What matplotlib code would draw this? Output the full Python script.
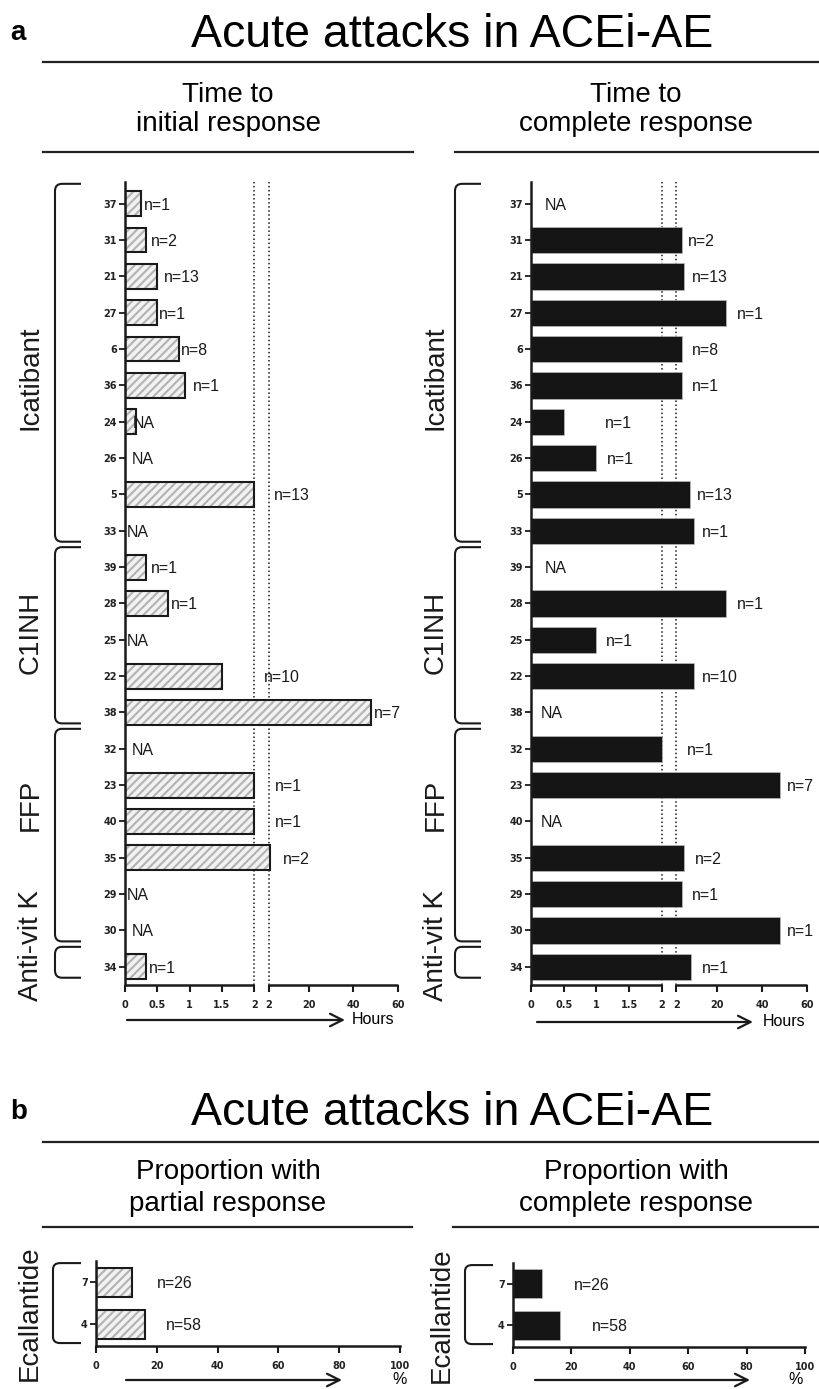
import numpy as np
import matplotlib.pyplot as plt
import matplotlib.transforms as mtransforms
from matplotlib.path import Path
from matplotlib.patches import PathPatch
from matplotlib.lines import Line2D

plt.rcParams['font.family'] = ['Liberation Sans', 'DejaVu Sans']
plt.rcParams['hatch.linewidth'] = 1.5

W, H = 820, 1389

# ---- data (part a) ----
patients = ['37', '31', '21', '27', '6', '36', '24', '26', '5', '33', '39',
            '28', '25', '22', '38', '32', '23', '40', '35', '29', '30', '34']
groups = ['Icatibant', 'C1INH', 'FFP', 'Anti-vit K']
group_sizes = [10, 5, 6, 1]

initial_hours = [0.25, 0.33, 0.5, 0.5, 0.83, 0.92, 0.17, np.nan, 2, np.nan, 0.33,
                 0.67, np.nan, 1.5, 48, np.nan, 2, 2, 2.5, np.nan, np.nan, 0.33]
initial_labels = ['n=1', 'n=2', 'n=13', 'n=1', 'n=8', 'n=1', 'NA', 'NA', 'n=13', 'NA', 'n=1',
                  'n=1', 'NA', 'n=10', 'n=7', 'NA', 'n=1', 'n=1', 'n=2', 'NA', 'NA', 'n=1']

complete_hours = [np.nan, 4.5, 5.5, 24, 4.5, 4.5, 0.5, 1, 8, 10, np.nan,
                  24, 1, 10, np.nan, 2, 48, np.nan, 5.5, 4.5, 48, 8.5]
complete_labels = ['NA', 'n=2', 'n=13', 'n=1', 'n=8', 'n=1', 'n=1', 'n=1', 'n=13', 'n=1', 'NA',
                   'n=1', 'n=1', 'n=10', 'NA', 'n=1', 'n=7', 'NA', 'n=2', 'n=1', 'n=1', 'n=1']

hour_ticks = [0, 0.5, 1, 1.5, 2, 2, 20, 40, 60]
hour_tick_labels = ['0', '0.5', '1', '1.5', '2', '2', '20', '40', '60']

# ---- data (part b) ----
ecal_patients = ['7', '4']
partial_pct = [12, 16]
complete_pct = [10, 16]
ecal_labels = ['n=26', 'n=58']
pct_ticks = [0, 20, 40, 60, 80, 100]

# label nudges (pixels right of bar end)
initial_dx = [3, 5, 7, 2, 2, 8, -3, 7, 20, 2, 5, 3, 2, 42, 3, 7, 21, 21, 13, 2, 7, 3]
complete_dx = [14, 6, 8, 11, 10, 10, 41, 11, 7, 8, 14, 11, 10, 8, 10, 25, 7, 10, 11, 10, 7, 11]

# broken hour axis: 0-2 linear, small gap, then 2-60 squeezed into same length
BREAK, GAP, SEG2, HMAX = 2.0, 0.22, 2.0, 60.0
EPS = 1e-6


def fwd(x):
    x = np.asarray(x, dtype=float)
    return np.where(x <= BREAK, x, BREAK + GAP + (x - BREAK) * SEG2 / (HMAX - BREAK))


def inv(p):
    p = np.asarray(p, dtype=float)
    return np.where(p <= BREAK, p,
                    np.where(p < BREAK + GAP, BREAK,
                             BREAK + (p - BREAK - GAP) * (HMAX - BREAK) / SEG2))


fig = plt.figure(figsize=(W / 100, H / 100), dpi=100)


def axes_px(l, t, r, b):
    return fig.add_axes([l / W, 1 - b / H, (r - l) / W, (b - t) / H])


def ftext(x, y, s, **kw):
    return fig.text(x / W, 1 - y / H, s, **kw)


def hline(x0, x1, y):
    fig.add_artist(Line2D([x0 / W, x1 / W], [1 - y / H, 1 - y / H],
                          transform=fig.transFigure, color='#222222', lw=1.6))


def arrow(x0, x1, y):
    fig.add_artist(plt.Annotation('', xy=(x1 / W, 1 - y / H), xytext=(x0 / W, 1 - y / H),
                                  xycoords='figure fraction', textcoords='figure fraction',
                                  arrowprops=dict(arrowstyle='->,head_length=0.9,head_width=0.45',
                                                  lw=1.6, color='#1a1a1a', shrinkA=0, shrinkB=0)))


def bracket(ax, x0, x1, r0, r1, rad=0.2):
    tr = mtransforms.blended_transform_factory(fig.transFigure, ax.transData)
    X0, X1, dx = x0 / W, x1 / W, 7 / W
    verts = [(X1, r0), (X0 + dx, r0), (X0, r0), (X0, r0 + rad),
             (X0, r1 - rad), (X0, r1), (X0 + dx, r1), (X1, r1)]
    codes = [Path.MOVETO, Path.LINETO, Path.CURVE3, Path.CURVE3,
             Path.LINETO, Path.CURVE3, Path.CURVE3, Path.LINETO]
    fig.add_artist(PathPatch(Path(verts, codes), transform=tr, fill=False,
                             lw=1.5, edgecolor='#1a1a1a', clip_on=False))


def group_text(ax, x, row, s):
    tr = mtransforms.blended_transform_factory(fig.transFigure, ax.transData)
    fig.text(x / W, row, s, transform=tr, rotation=90, ha='center', va='center',
             fontsize=20, color='#1a1a1a')


def draw_bars(ax, rows, vals, hatched, height):
    if hatched:
        ax.barh(rows, vals, height=height, facecolor='#f2f2f2', edgecolor='#b3b3b3',
                hatch='////', lw=0, zorder=2)
        ax.barh(rows, vals, height=height, fill=False, edgecolor='#1a1a1a', lw=1.5, zorder=3)
    else:
        ax.barh(rows, vals, height=height, color='#151515', edgecolor='#bbbbbb', lw=0.5, zorder=2)


def style_axes(ax):
    for s in ['top', 'right', 'bottom']:
        ax.spines[s].set_visible(False)
    ax.spines['left'].set_linewidth(1.8)
    ax.spines['left'].set_color('#1a1a1a')
    ax.tick_params(axis='y', length=4, width=1.3, pad=2, color='#1a1a1a')
    ax.tick_params(axis='x', length=5, width=1.5, pad=6, color='#1a1a1a')
    ax.patch.set_alpha(0)


def tick_font():
    return dict(fontweight='bold', fontsize=7, family='DejaVu Sans', color='#222222')


def hours_panel(ax, hours, labels, dx, hatched, bx, gx, bar_h):
    rows = np.arange(len(patients))
    vals = np.array(hours, dtype=float)
    ok = ~np.isnan(vals)
    ax.set_xscale('function', functions=(fwd, inv))
    ax.set_xlim(0, HMAX)
    ax.set_ylim(len(patients) - 0.5, -0.6)
    ax.axvline(BREAK, ls=':', color='#1a1a1a', lw=1.1, zorder=1)
    ax.axvline(BREAK + EPS, ls=':', color='#1a1a1a', lw=1.1, zorder=1)
    draw_bars(ax, rows[ok], vals[ok], hatched, bar_h)
    for r, v, lab, d in zip(rows, vals, labels, dx):
        x = 0 if np.isnan(v) else v
        ax.annotate(lab, xy=(x, r), xytext=(d, 0), textcoords='offset pixels',
                    ha='left', va='center_baseline', fontsize=11.5, color='#1a1a1a',
                    annotation_clip=False)
    style_axes(ax)
    # broken x axis line
    tr = mtransforms.blended_transform_factory(ax.transData, ax.transAxes)
    ax.plot([0, BREAK], [0, 0], transform=tr, color='#1a1a1a', lw=1.8, clip_on=False,
            solid_capstyle='butt')
    ax.plot([BREAK + EPS, HMAX], [0, 0], transform=tr, color='#1a1a1a', lw=1.8, clip_on=False,
            solid_capstyle='butt')
    tick_pos = [t if i != 5 else t + EPS for i, t in enumerate(hour_ticks)]
    ax.set_xticks(tick_pos, labels=hour_tick_labels, **tick_font())
    ax.set_yticks(rows, labels=patients, **tick_font())
    ax.xaxis.set_minor_locator(plt.NullLocator())
    # group brackets + labels
    start = 0
    shifts = [0.3, -0.2, -0.95, -0.6]
    for g, n, sh in zip(groups, group_sizes, shifts):
        r0, r1 = start - 0.55, start + n - 1 + 0.3
        bracket(ax, bx, bx + 26, r0, r1)
        group_text(ax, gx, (start + start + n - 1) / 2 + sh, g)
        start += n


def pct_panel(ax, vals, hatched, label_x, bx, gx):
    rows = np.arange(len(ecal_patients))
    ax.set_xlim(0, 100)
    ax.set_ylim(1.52, -0.5)
    draw_bars(ax, rows, vals, hatched, 0.69)
    for r, lab, lx in zip(rows, ecal_labels, label_x):
        ax.text(lx, r, lab, ha='left', va='center_baseline', fontsize=11.5, color='#1a1a1a')
    style_axes(ax)
    ax.spines['bottom'].set_visible(True)
    ax.spines['bottom'].set_linewidth(1.8)
    ax.spines['bottom'].set_color('#1a1a1a')
    ax.set_xticks(pct_ticks, labels=[str(t) for t in pct_ticks], **tick_font())
    ax.set_yticks(rows, labels=ecal_patients, **tick_font())
    bracket(ax, bx, bx + 28, -0.45, 1.45, rad=0.15)
    group_text(ax, gx, 0.75, 'Ecallantide')


# ---- part a ----
ftext(10, 40, 'a', fontweight='bold', fontsize=20, va='baseline')
ftext(452, 47, 'Acute attacks in ACEi-AE', fontsize=33.5, ha='center', va='baseline')
hline(43, 820, 62)
ftext(228, 102, 'Time to', fontsize=20, ha='center', va='baseline')
ftext(228, 131, 'initial response', fontsize=20, ha='center', va='baseline')
ftext(636, 102, 'Time to', fontsize=20, ha='center', va='baseline')
ftext(636, 131, 'complete response', fontsize=20, ha='center', va='baseline')
hline(43, 413, 152)
hline(455, 818, 152)

ax1 = axes_px(125, 182, 398, 985)
hours_panel(ax1, initial_hours, initial_labels, initial_dx, True, 55, 31, 0.68)
ax2 = axes_px(531, 182, 807, 985)
hours_panel(ax2, complete_hours, complete_labels, complete_dx, False, 455, 436, 0.72)

arrow(127, 345, 1020)
ftext(352, 1020, 'Hours', fontsize=11.5, va='center')
arrow(537, 753, 1022)
ftext(763, 1022, 'Hours', fontsize=11.5, va='center')

# ---- part b ----
ftext(10, 1119, 'b', fontweight='bold', fontsize=20, va='baseline')
ftext(452, 1125, 'Acute attacks in ACEi-AE', fontsize=33.5, ha='center', va='baseline')
hline(43, 820, 1142)
ftext(228, 1179, 'Proportion with', fontsize=20, ha='center', va='baseline')
ftext(228, 1211, 'partial response', fontsize=20, ha='center', va='baseline')
ftext(636, 1179, 'Proportion with', fontsize=20, ha='center', va='baseline')
ftext(636, 1211, 'complete response', fontsize=20, ha='center', va='baseline')
hline(43, 412, 1227)
hline(453, 818, 1227)

ax3 = axes_px(96, 1261, 400, 1346)
pct_panel(ax3, partial_pct, True, [20, 23], 53, 30)
ax4 = axes_px(513, 1263, 805, 1347)
pct_panel(ax4, complete_pct, False, [21, 27], 465, 442)

arrow(126, 342, 1380)
ftext(392, 1380, '%', fontsize=11.5, va='center')
arrow(535, 750, 1380)
ftext(788, 1380, '%', fontsize=11.5, va='center')

fig.savefig('out.png', dpi=100)
